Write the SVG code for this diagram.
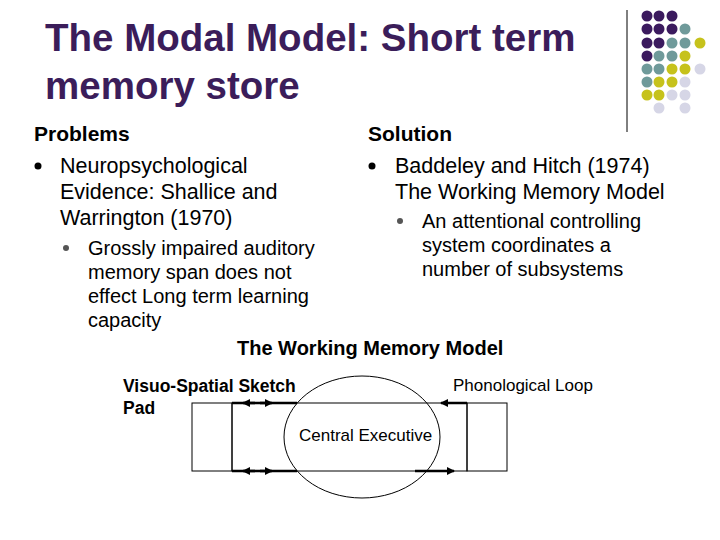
<svg xmlns="http://www.w3.org/2000/svg" width="720" height="540" viewBox="0 0 720 540">
<style>
text{font-family:"Liberation Sans",Arial,sans-serif;fill:#000}
.t{font-size:38.5px;fill:#3b1d5a;font-weight:bold}
.h{font-size:21px;font-weight:bold}
.b{font-size:21.5px}
.s{font-size:20px}
.d{font-size:17.5px;font-weight:bold}
.n{font-size:17px}
.P{fill:#3b1a5e}.T{fill:#6f9a9a}.Y{fill:#c6c21c}.L{fill:#d6d6e6}
.ln{stroke:#000;fill:none;stroke-width:1}
.hv{stroke:#000;stroke-width:2.5}
</style>
<defs><marker id="a" markerWidth="8" markerHeight="8" refX="7" refY="4" orient="auto" markerUnits="userSpaceOnUse"><path d="M0,0 L8,4 L0,8z" fill="#000"/></marker></defs>
<rect width="720" height="540" fill="#fff"/>
<g id="deco">
<line x1="627" y1="10" x2="627" y2="132" stroke="#000"/>
<g>
<circle class="P" cx="647" cy="16" r="5.5"/><circle class="P" cx="659" cy="16" r="5.5"/><circle class="P" cx="672" cy="16" r="5.5"/>
<circle class="P" cx="647" cy="29" r="5.5"/><circle class="P" cx="659" cy="29" r="5.5"/><circle class="P" cx="672" cy="29" r="5.5"/><circle class="T" cx="685" cy="29" r="5.5"/>
<circle class="P" cx="647" cy="43" r="5.5"/><circle class="P" cx="659" cy="43" r="5.5"/><circle class="T" cx="672" cy="43" r="5.5"/><circle class="T" cx="685" cy="43" r="5.5"/><circle class="Y" cx="700" cy="43" r="5.5"/>
<circle class="P" cx="647" cy="56" r="5.5"/><circle class="T" cx="659" cy="56" r="5.5"/><circle class="T" cx="672" cy="56" r="5.5"/><circle class="Y" cx="685" cy="56" r="5.5"/>
<circle class="T" cx="647" cy="69" r="5.5"/><circle class="T" cx="659" cy="69" r="5.5"/><circle class="Y" cx="672" cy="69" r="5.5"/><circle class="Y" cx="685" cy="69" r="5.5"/><circle class="L" cx="700" cy="69" r="5.5"/>
<circle class="T" cx="647" cy="82" r="5.5"/><circle class="Y" cx="659" cy="82" r="5.5"/><circle class="Y" cx="672" cy="82" r="5.5"/><circle class="L" cx="685" cy="82" r="5.5"/>
<circle class="Y" cx="647" cy="95" r="5.5"/><circle class="Y" cx="659" cy="95" r="5.5"/><circle class="L" cx="672" cy="95" r="5.5"/><circle class="L" cx="685" cy="95" r="5.5"/>
<circle class="L" cx="659" cy="108" r="5.5"/><circle class="L" cx="685" cy="108" r="5.5"/>
</g>
</g>
<g id="title">
<text class="t" x="45" y="51">The Modal Model: Short term</text>
<text class="t" x="45" y="99">memory store</text>
</g>
<g id="left">
<text class="h" x="34" y="141">Problems</text>
<circle cx="38" cy="166" r="3.5"/>
<text class="b" x="60" y="173">Neuropsychological</text>
<text class="b" x="60" y="199">Evidence: Shallice and</text>
<text class="b" x="60" y="225">Warrington (1970)</text>
<circle cx="66" cy="248" r="3" fill="#555"/>
<text class="s" x="88" y="255">Grossly impaired auditory</text>
<text class="s" x="88" y="279">memory span does not</text>
<text class="s" x="88" y="303">effect Long term learning</text>
<text class="s" x="88" y="327">capacity</text>
</g>
<g id="right">
<text class="h" x="368" y="141">Solution</text>
<circle cx="372" cy="166" r="3.5"/>
<text class="b" x="395" y="173">Baddeley and Hitch (1974)</text>
<text class="b" x="395" y="199">The Working Memory Model</text>
<circle cx="400" cy="221" r="3" fill="#555"/>
<text class="s" x="422" y="228">An attentional controlling</text>
<text class="s" x="422" y="252">system coordinates a</text>
<text class="s" x="422" y="276">number of subsystems</text>
</g>
<text x="237" y="355" style="font-weight:bold;font-size:20px">The Working Memory Model</text>
<g id="vssp">
<rect class="ln" x="192" y="403" width="40" height="68"/>
<text class="d" x="123" y="392">Visuo-Spatial Sketch</text>
<text class="d" x="123" y="414">Pad</text>
</g>
<g id="mid"><rect class="ln" x="232" y="403" width="235" height="68"/></g>
<g id="pl">
<rect class="ln" x="467" y="403" width="40" height="68"/>
<text class="n" x="453" y="391">Phonological Loop</text>
</g>
<g id="ce">
<ellipse class="ln" cx="362" cy="437" rx="78" ry="61"/>
<text class="n" x="299" y="441">Central Executive</text>
</g>
<g id="connectors">
<line class="hv" x1="232" y1="403" x2="297" y2="403"/>
<line class="hv" x1="255" y1="403" x2="243" y2="403" marker-end="url(#a)"/>
<line class="hv" x1="260" y1="403" x2="272" y2="403" marker-end="url(#a)"/>
<line class="hv" x1="232" y1="471" x2="297" y2="471"/>
<line class="hv" x1="255" y1="471" x2="243" y2="471" marker-end="url(#a)"/>
<line class="hv" x1="260" y1="471" x2="272" y2="471" marker-end="url(#a)"/>
<line class="hv" x1="467" y1="403" x2="441" y2="403" marker-end="url(#a)"/>
<line class="hv" x1="415" y1="471" x2="454" y2="471" marker-end="url(#a)"/>
</g>
</svg>
